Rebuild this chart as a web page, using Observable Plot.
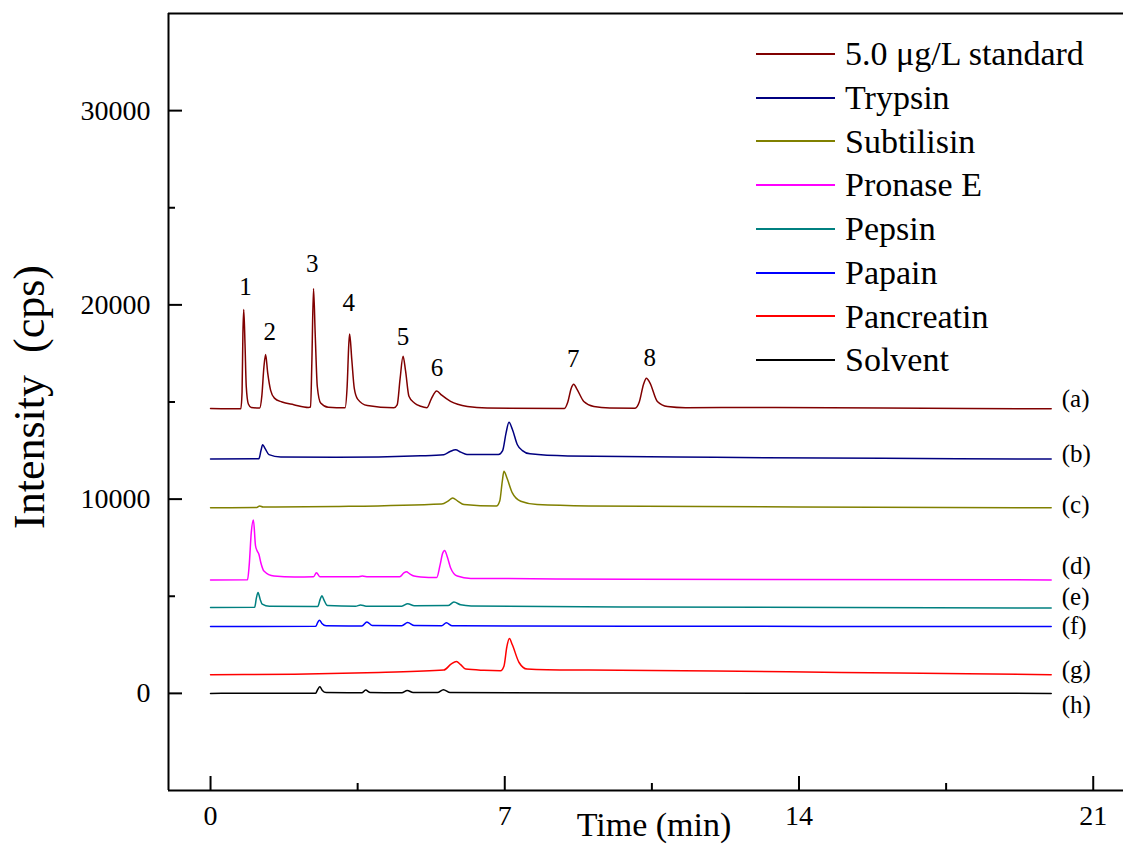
<!DOCTYPE html>
<html>
<head>
<meta charset="utf-8">
<script src="https://cdn.jsdelivr.net/npm/d3@7"></script>
<script src="https://cdn.jsdelivr.net/npm/@observablehq/plot@0.6"></script>
<style>
  html, body { margin: 0; padding: 0; background: #fff; overflow: hidden; }
  #wrap { position: relative; width: 1123px; height: 851px; font-family: "Liberation Serif", "Times New Roman", serif; }
  #legend { position: absolute; left: 756px; top: 32px; }
  .row { display: flex; align-items: center; height: 43.75px; }
  .sw { width: 79px; height: 2px; margin-right: 10px; flex: none; }
  .lab { font-size: 34px; line-height: 43.75px; color: #000; white-space: nowrap; }
  #ytitle { position: absolute; left: 30px; top: 397px; transform: translate(-50%, -50%) rotate(-90deg); font-size: 44px; white-space: pre; color: #000; line-height: 1; }
</style>
</head>
<body>
<div id="wrap"><div id="legend"></div><div id="ytitle"></div></div>
<script>
// ---- data (time in min, intensity in cps) ----
const seriesNames = ["5.0 \u03bcg/L standard", "Trypsin", "Subtilisin", "Pronase E", "Pepsin", "Papain", "Pancreatin", "Solvent"];
const seriesColors = ["#800000", "#000080", "#808000", "#ff00ff", "#008080", "#0000ff", "#ff0000", "#000000"];

const standardPts = [[0,14660],[0.72,14650],[0.75,15500],[0.77,18500],[0.79,19760],[0.82,18000],[0.85,15800],[0.9,14900],[0.97,14720],[1.17,14690],[1.22,15300],[1.27,16800],[1.31,17450],[1.36,16500],[1.43,15600],[1.52,15200],[1.7,15000],[1.98,14860],[2.33,14720],[2.38,14740],[2.41,17000],[2.45,20840],[2.49,18500],[2.54,15800],[2.62,14950],[2.8,14730],[3.2,14700],[3.25,15800],[3.29,18000],[3.31,18500],[3.36,17200],[3.42,15700],[3.5,15150],[3.73,14820],[4.36,14700],[4.44,14850],[4.51,16200],[4.58,17350],[4.64,16600],[4.72,15300],[4.85,14950],[5.0,14780],[5.15,14710],[5.25,15150],[5.38,15570],[5.5,15350],[5.71,15030],[6.11,14770],[6.58,14690],[8.42,14670],[8.5,15000],[8.58,15700],[8.64,15910],[8.72,15650],[8.88,15030],[9.12,14770],[9.5,14690],[10.1,14680],[10.2,15000],[10.3,15900],[10.37,16220],[10.45,16000],[10.63,15030],[10.87,14770],[11.3,14710],[13,14720],[16,14690],[20,14650]];
const trypsinPts = [[0,12060],[1.15,12080],[1.2,12500],[1.24,12800],[1.3,12600],[1.39,12290],[1.67,12170],[3,12150],[5.0,12230],[5.55,12290],[5.7,12450],[5.83,12540],[5.95,12420],[6.1,12300],[6.85,12300],[6.95,12500],[7.03,13400],[7.1,13960],[7.18,13600],[7.3,12800],[7.42,12500],[7.6,12330],[8.5,12220],[12,12150],[16,12100],[20,12060]];
const subtilisinPts = [[0,9550],[1.1,9570],[1.17,9650],[1.25,9590],[3,9620],[5.5,9750],[5.65,9900],[5.76,10060],[5.88,9900],[6.03,9720],[6.8,9640],[6.88,9900],[6.94,10900],[6.98,11430],[7.05,11100],[7.18,10320],[7.38,9890],[7.77,9720],[9,9650],[14,9600],[20,9550]];
const pronasePts = [[0,5840],[0.88,5850],[0.92,6600],[0.97,8300],[1.02,8920],[1.07,7600],[1.11,7330],[1.15,7160],[1.2,6700],[1.27,6300],[1.51,6040],[2,5990],[2.45,6000],[2.52,6210],[2.6,6010],[3.5,6000],[3.61,6040],[3.75,6000],[4.5,6000],[4.6,6200],[4.66,6260],[4.74,6150],[4.84,6040],[5.0,5990],[5.38,5960],[5.46,6600],[5.52,7200],[5.57,7360],[5.63,7050],[5.71,6470],[5.87,6040],[6.19,5920],[10,5880],[20,5840]];
const pepsinPts = [[0,4420],[1.05,4430],[1.09,4900],[1.13,5190],[1.18,4850],[1.23,4590],[1.4,4480],[2.55,4470],[2.61,4850],[2.65,5020],[2.7,4800],[2.78,4520],[3.45,4480],[3.57,4550],[3.7,4490],[4.55,4490],[4.69,4620],[4.85,4510],[5.65,4520],[5.79,4700],[5.95,4560],[6.2,4500],[10,4450],[20,4390]];
const papainPts = [[0,3440],[2.5,3450],[2.55,3650],[2.59,3770],[2.65,3600],[2.75,3480],[3.6,3470],[3.72,3680],[3.85,3490],[4.55,3480],[4.69,3650],[4.85,3490],[5.5,3480],[5.61,3630],[5.75,3480],[10,3460],[20,3440]];
const pancreatinPts = [[0,960],[2,990],[4,1080],[5.55,1200],[5.72,1500],[5.85,1640],[5.95,1480],[6.07,1250],[6.5,1190],[6.9,1170],[6.98,1400],[7.05,2400],[7.11,2820],[7.18,2500],[7.34,1590],[7.53,1250],[8,1210],[9,1200],[12,1150],[15,1080],[18,1010],[20,960]];
const solventPts = [[0,0],[2.5,10],[2.55,200],[2.6,340],[2.66,150],[2.75,40],[3.6,30],[3.69,170],[3.8,40],[4.55,30],[4.68,150],[4.82,40],[5.4,40],[5.54,190],[5.7,40],[10,20],[20,0]];

const peakLabels = ["1","2","3","4","5","6","7","8"];
const peakLabelX = [0.83, 1.41, 2.42, 3.29, 4.58, 5.39, 8.63, 10.45];
const peakLabelY = [20930, 18620, 22110, 20120, 18360, 16740, 17220, 17280];

const traceLabels = ["(a)","(b)","(c)","(d)","(e)","(f)","(g)","(h)"];
const traceLabelX = 20.25;
const traceLabelY = [15160, 12330, 9680, 6570, 4980, 3480, 1180, -620];

const xMajor = [0, 7, 14, 21];
const xMinor = [3.5, 10.5, 17.5];
const yMajor = [0, 10000, 20000, 30000];
const yMinor = [5000, 15000, 25000];
const xTitle = "Time (min)";
const yTitle = "Intensity  (cps)";

// ---- build ----
const allSeries = [standardPts, trypsinPts, subtilisinPts, pronasePts, pepsinPts, papainPts, pancreatinPts, solventPts];
const rows = allSeries.flatMap((pts, i) => pts.map(([t, v]) => ({t, v, s: seriesNames[i]})));
const peaks = peakLabels.map((l, i) => ({l, x: peakLabelX[i], y: peakLabelY[i]}));
const traces = traceLabels.map((l, i) => ({l, x: traceLabelX, y: traceLabelY[i]}));

const font = '"Liberation Serif", "Times New Roman", serif';
const chart = Plot.plot({
  width: 1123, height: 851,
  marginLeft: 168, marginRight: 0, marginTop: 13, marginBottom: 61,
  style: {fontFamily: font, background: "white", color: "black"},
  x: {domain: [-1, 21.72]},
  y: {domain: [-5000, 35000]},
  color: {domain: seriesNames, range: seriesColors},
  marks: [
    Plot.line(rows, {x: "t", y: "v", z: "s", stroke: "s", strokeWidth: 1.5, curve: "monotone-x"}),
    Plot.text(peaks, {x: "x", y: "y", text: "l", fontSize: 25, fill: "black"}),
    Plot.text(traces, {x: "x", y: "y", text: "l", fontSize: 25, textAnchor: "start", fill: "black"}),
    // frame
    Plot.ruleY([35000, -5000], {stroke: "black", strokeWidth: 2}),
    Plot.ruleX([-1], {stroke: "black", strokeWidth: 2}),
    // ticks (inward)
    Plot.axisX(xMajor, {anchor: "bottom", tickSize: 14, dy: -14, tickFormat: () => "", strokeWidth: 2, label: null}),
    Plot.axisX(xMinor, {anchor: "bottom", tickSize: 7, dy: -7, tickFormat: () => "", strokeWidth: 2, label: null}),
    Plot.axisY(yMajor, {anchor: "left", tickSize: 14, dx: 14, tickFormat: () => "", strokeWidth: 2, label: null}),
    Plot.axisY(yMinor, {anchor: "left", tickSize: 7, dx: 7, tickFormat: () => "", strokeWidth: 2, label: null}),
    // tick labels
    Plot.axisX(xMajor, {anchor: "bottom", tickSize: 0, tickPadding: 15, fontSize: 28, tickFormat: d => String(d), label: null}),
    Plot.axisY(yMajor, {anchor: "left", tickSize: 0, tickPadding: 18, fontSize: 28, tickFormat: d => String(d), label: null}),
    // x axis title
    Plot.text([xTitle], {frameAnchor: "bottom", dx: 8, dy: 45, fontSize: 34, fill: "black"})
  ]
});
const wrap = document.getElementById("wrap");
wrap.insertBefore(chart, wrap.firstChild);
document.getElementById("ytitle").textContent = yTitle;

const legend = document.getElementById("legend");
seriesNames.forEach((n, i) => {
  const row = document.createElement("div");
  row.className = "row";
  const sw = document.createElement("div");
  sw.className = "sw";
  sw.style.background = seriesColors[i];
  const lab = document.createElement("div");
  lab.className = "lab";
  lab.textContent = n;
  row.appendChild(sw); row.appendChild(lab);
  legend.appendChild(row);
});
</script>
</body>
</html>
